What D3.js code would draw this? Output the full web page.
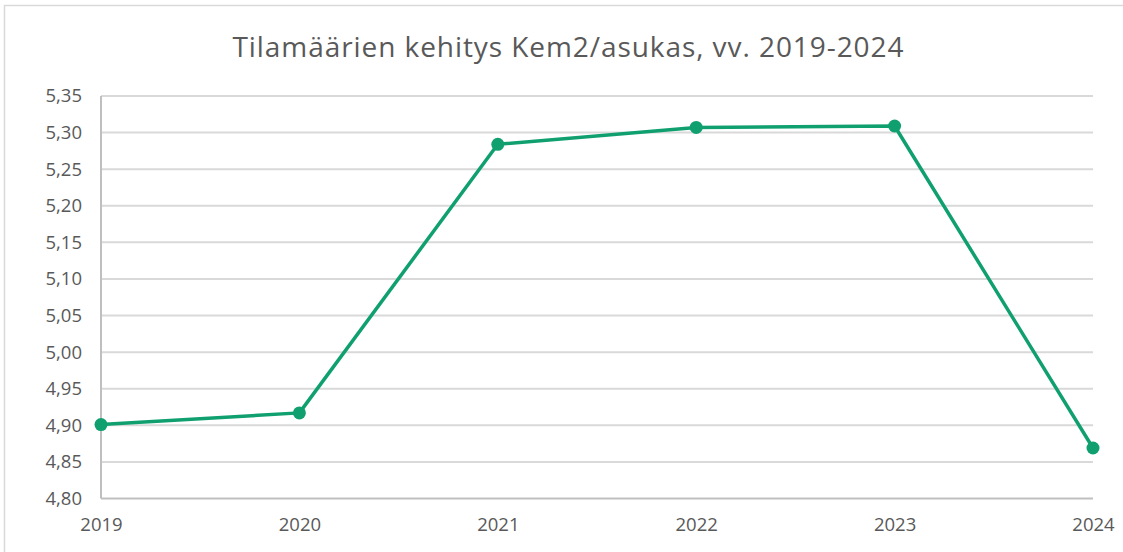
<!DOCTYPE html>
<html>
<head>
<meta charset="utf-8">
<script src="https://cdn.jsdelivr.net/npm/d3@7"></script>
<style>
  body { margin: 0; background: #fff; }
  text { font-family: "Open Sans", "Noto Sans", sans-serif; fill: #595959; }
</style>
</head>
<body>
<div class="graph"></div>
<script>
const years = ["2019", "2020", "2021", "2022", "2023", "2024"];
const values = [4.901, 4.917, 5.284, 5.307, 5.309, 4.869];
const yTicks = [4.80, 4.85, 4.90, 4.95, 5.00, 5.05, 5.10, 5.15, 5.20, 5.25, 5.30, 5.35];
const title = "Tilamäärien kehitys Kem2/asukas, vv. 2019-2024";

const width = 1123;
const height = 552;
const margin = { top: 96, right: 28, bottom: 53, left: 101 };

const canvas = d3.select(".graph")
  .append("svg")
  .attr("width", width)
  .attr("height", height);

// chart frame (right and bottom edges fall outside the picture)
canvas.append("rect")
  .attr("x", 4.5)
  .attr("y", 5.5)
  .attr("width", width + 10)
  .attr("height", height + 10)
  .attr("fill", "none")
  .attr("stroke", "#d9d9d9")
  .attr("stroke-width", 1.5);

canvas.append("text")
  .attr("x", 568)
  .attr("y", 57)
  .attr("text-anchor", "middle")
  .style("font-size", "28px")
  .attr("textLength", 671)
  .attr("lengthAdjust", "spacing")
  .text(title);

const x = d3.scalePoint()
  .domain(years)
  .range([margin.left, width - margin.right - 2]);

const y = d3.scaleLinear()
  .domain([4.80, 5.35])
  .range([height - margin.bottom - 0.5, margin.top]);

const fmt = d => d3.format(".2f")(d).replace(".", ",");

// gridlines
canvas.append("g")
  .selectAll("line")
  .data(yTicks)
  .enter().append("line")
  .attr("x1", margin.left)
  .attr("x2", width - margin.right - 2)
  .attr("y1", d => y(d))
  .attr("y2", d => y(d))
  .attr("stroke", d => d === 4.80 ? "#bfbfbf" : "#d9d9d9")
  .attr("stroke-width", 2);

// left axis line
canvas.append("line")
  .attr("x1", margin.left)
  .attr("x2", margin.left)
  .attr("y1", y(5.35))
  .attr("y2", y(4.80))
  .attr("stroke", "#bfbfbf")
  .attr("stroke-width", 2);

const yAxis = d3.axisLeft(y).tickValues(yTicks).tickFormat(fmt).tickSize(0).tickPadding(19);
const gy = canvas.append("g")
  .attr("id", "y-axis")
  .attr("transform", `translate(${margin.left}, 0)`)
  .call(yAxis);
gy.select(".domain").remove();
gy.selectAll("text").style("font-size", "18.5px").attr("fill", "#595959");

const xAxis = d3.axisBottom(x).tickSize(0).tickPadding(19);
const gx = canvas.append("g")
  .attr("id", "x-axis")
  .attr("transform", `translate(0, ${y(4.80)})`)
  .call(xAxis);
gx.select(".domain").remove();
gx.selectAll("text").style("font-size", "18.5px").attr("fill", "#595959");

const series = years.map((d, i) => [d, values[i]]);
const green = "#10a070";

canvas.append("path")
  .datum(series)
  .attr("fill", "none")
  .attr("stroke", green)
  .attr("stroke-width", 3.5)
  .attr("stroke-linejoin", "round")
  .attr("d", d3.line().x(d => x(d[0])).y(d => y(d[1])));

canvas.selectAll("circle")
  .data(series)
  .enter().append("circle")
  .attr("cx", d => x(d[0]))
  .attr("cy", d => y(d[1]))
  .attr("r", 6.5)
  .attr("fill", green);
</script>
</body>
</html>
